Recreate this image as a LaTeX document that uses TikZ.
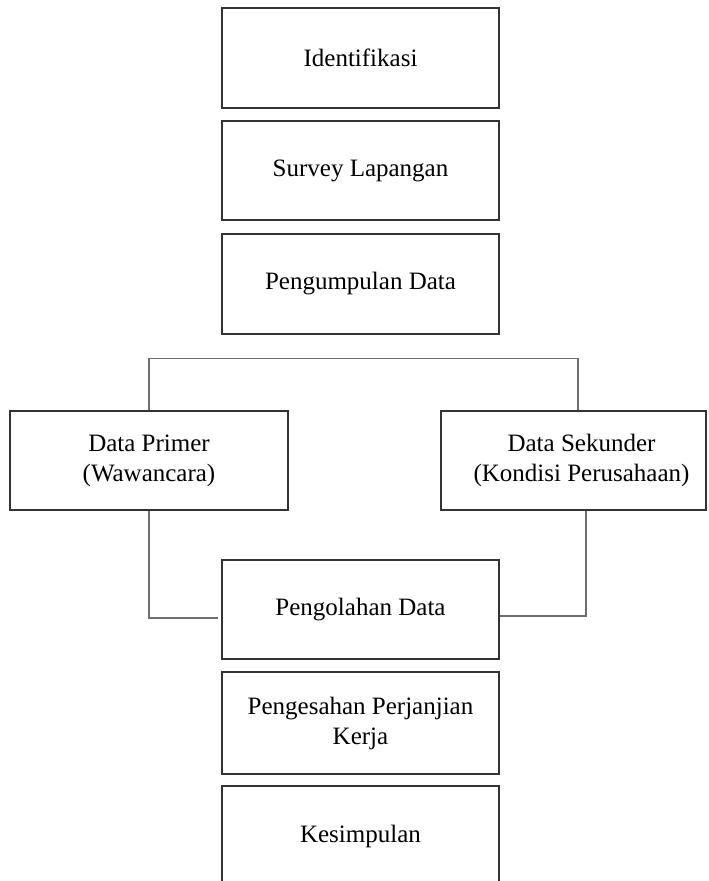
\documentclass[tikz,border=0pt]{standalone}
\usepackage{fontspec}
\setmainfont{Liberation Serif}
\definecolor{boxline}{HTML}{333333}
\definecolor{linkline}{HTML}{6E6E6E}
\tikzset{>=stealth}
\tikzset{
  stage/.style={draw=boxline, line width=1.6pt, minimum width=277pt, inner sep=0pt,
    align=center, font=\fontsize{25}{30}\selectfont},
  link/.style={draw=linkline, line width=1.4pt}
}

\begin{document}
\begin{tikzpicture}[x=1pt, y=-1pt]
\useasboundingbox (0,0) rectangle (709,881);
\clip (0,0) rectangle (709,881);
\node[stage, minimum height=100pt] (idf) at (360.5,58) {Identifikasi};
\node[stage, minimum height=99pt] (survey) at (360.5,170.5) {Survey Lapangan};
\node[stage, minimum height=100pt] (kumpul) at (360.5,284) {Pengumpulan Data};
\node[stage, minimum width=278pt, minimum height=99pt] (primer) at (149,460.5) {Data Primer\\(Wawancara)};
\node[stage, minimum width=265pt, minimum height=99pt] (sekunder) at (573.5,460.5) {\hspace*{16pt}Data Sekunder\\\hspace*{16pt}(Kondisi Perusahaan)};
\node[stage, minimum height=99pt] (olah) at (360.5,609.5) {Pengolahan Data};
\node[stage, minimum height=102pt] (sah) at (360.5,723) {Pengesahan Perjanjian\\Kerja};
\node[stage, minimum height=100pt] (simpul) at (360.5,836) {Kesimpulan};
\coordinate (jl) at (218,618);
\draw[link] (primer.north) -- ++(0,-52) -| ([xshift=4.5pt]sekunder.north);
\draw[link] (primer.south) |- (jl);
\draw[link] ([xshift=12.5pt]sekunder.south) |- ([yshift=-6.5pt]olah.east);
\end{tikzpicture}
\end{document}
